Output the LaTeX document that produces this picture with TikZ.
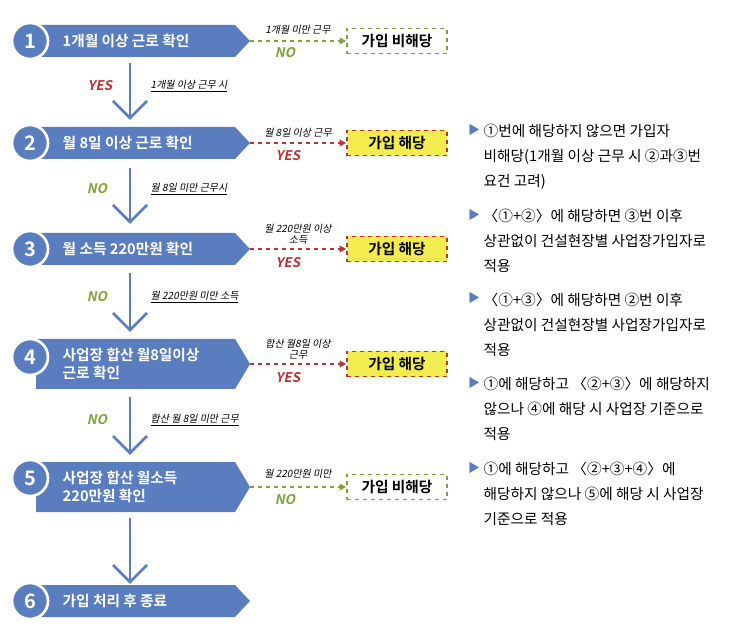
\documentclass[tikz,border=0pt]{standalone}
\usepackage{fontspec}
\setmainfont{Noto Sans CJK KR}
\newfontfamily\kit[FakeSlant=0.2]{Noto Sans CJK KR}
\newfontfamily\kbold{Noto Sans CJK KR Bold}
\newfontfamily\kboldit[FakeSlant=0.2]{Noto Sans CJK KR Bold}
\usetikzlibrary{arrows.meta}
\definecolor{bl}{HTML}{5A7DBF}
\definecolor{gr}{HTML}{7FA33A}
\definecolor{rd}{HTML}{C0302F}
\definecolor{yl}{HTML}{F2EC4E}
\tikzset{x=0.75pt,y=-0.75pt,
 circ/.style={circle,fill=bl,draw=white,line width=2pt,minimum size=27pt,text=white,font=\kbold\fontsize{15}{15}\selectfont,inner sep=0},
 btxt/.style={text=white,font=\kbold\fontsize{11}{13}\selectfont,align=left,anchor=west},
 nobox/.style={draw=gr,dashed,line width=1.2pt,fill=white,minimum width=75pt,minimum height=19pt,font=\kbold\fontsize{11}{13}\selectfont},
 yesbox/.style={draw=rd,dashed,line width=1.2pt,fill=yl,minimum width=75pt,minimum height=19pt,font=\kbold\fontsize{11}{13}\selectfont},
 small/.style={font=\kit\fontsize{7.5}{8.5}\selectfont,align=center},
 ulab/.style={font=\kit\fontsize{7.5}{8}\selectfont,anchor=west},
 yes/.style={text=rd,font=\kboldit\fontsize{10}{10}\selectfont},
 no/.style={text=gr,font=\kboldit\fontsize{10}{10}\selectfont},
 gdash/.style={gr,dashed,line width=1pt,-{Triangle[length=5pt,width=5pt]}},
 rdash/.style={rd,dashed,line width=1pt,-{Triangle[length=5pt,width=5pt]}},
 down/.style={bl,line width=2pt},
 bul/.style={anchor=north west,font=\fontsize{11}{19}\selectfont,align=left}
}
\begin{document}
\begin{tikzpicture}
\useasboundingbox (0,0) rectangle (739,634);
% banners
\foreach \y/\h/\cy/\n in {41/16/41/1,143/16/143/2,249/16/249/3,364/25/357/4,487/25/478/5,601/16/601/6}{
 \fill[bl] (36,\y-\h) -- (235,\y-\h) -- (250,\y) -- (235,\y+\h) -- (36,\y+\h) -- cycle;
 \node[circ] (c\n) at (30,\cy) {\n};
 \coordinate (t\n) at (250,\y);
}
\node[btxt] (b1) at (58,41) {1개월 이상 근로 확인};
\node[btxt] (b2) at (58,143) {월 8일 이상 근로 확인};
\node[btxt] (b3) at (58,249) {월 소득 220만원 확인};
\node[btxt] (b4) at (58,364) {사업장 합산 월8일이상\\근로 확인};
\node[btxt] (b5) at (58,487) {사업장 합산 월소득\\220만원 확인};
\node[btxt] (b6) at (58,601) {가입 처리 후 종료};
% result boxes
\node[nobox] (r1) at (397,41) {가입 비해당};
\node[yesbox] (r2) at (397,143) {가입 해당};
\node[yesbox] (r3) at (397,249) {가입 해당};
\node[yesbox] (r4) at (397,364) {가입 해당};
\node[nobox] (r5) at (397,487) {가입 비해당};
\draw[gdash] (t1) -- (r1);
\draw[rdash] (t2) -- (r2);
\draw[rdash] (t3) -- (r3);
\draw[rdash] (t4) -- (r4);
\draw[gdash] (t5) -- (r5);
\node[small] (s1) at (298,30) {1개월 미만 근무};
\node[no] (n1) at (285,53) {NO};
\node[small] (s2) at (298,133) {월 8일 이상 근무};
\node[yes] (y2) at (288,156) {YES};
\node[small] (s3) at (298,234) {월 220만원 이상\\소득};
\node[yes] (y3) at (288,263) {YES};
\node[small] (s4) at (298,349) {합산 월8일 이상\\근무};
\node[yes] (y4) at (288,378) {YES};
\node[small] (s5) at (298,474) {월 220만원 미만};
\node[no] (n5) at (285,500) {NO};
% down arrows
\foreach \a/\b in {63/118,168/222,273/330,397/453,518/582}{
 \draw[down] (130,\a) -- (130,\b);
 \draw[down] (113,\b-17) -- (130,\b) -- (147,\b-17);
}
\node[yes] (y12) at (100,86) {YES};
\node[ulab] (u12) at (146,86) {\underline{1개월 이상 근무 시}};
\node[no] (n23) at (97,189) {NO};
\node[ulab] (u23) at (146,189) {\underline{월 8일 미만 근무시}};
\node[no] (n34) at (97,297) {NO};
\node[ulab] (u34) at (146,297) {\underline{월 220만원 미만 소득}};
\node[no] (n45) at (97,420) {NO};
\node[ulab] (u45) at (146,420) {\underline{합산 월 8일 미만 근무}};
% right notes
\foreach \y/\n in {130/1,215/2,298/3,383/4,468/5}{
 \node[text=bl,font=\fontsize{9}{9}\selectfont] (p\n) at (474,\y) {▶};
}
\node[bul] (q1) at (479,119) {①번에 해당하지 않으면 가입자\\비해당(1개월 이상 근무 시 ②과③번\\요건 고려)};
\node[bul] (q2) at (479,204) {〈①+②〉에 해당하면 ③번 이후\\상관없이 건설현장별 사업장가입자로\\적용};
\node[bul] (q3) at (479,288) {〈①+③〉에 해당하면 ②번 이후\\상관없이 건설현장별 사업장가입자로\\적용};
\node[bul] (q4) at (479,372) {①에 해당하고 〈②+③〉에 해당하지\\않으나 ④에 해당 시 사업장 기준으로\\적용};
\node[bul] (q5) at (479,457) {①에 해당하고 〈②+③+④〉에\\해당하지 않으나 ⑤에 해당 시 사업장\\기준으로 적용};
\end{tikzpicture}
\end{document}
